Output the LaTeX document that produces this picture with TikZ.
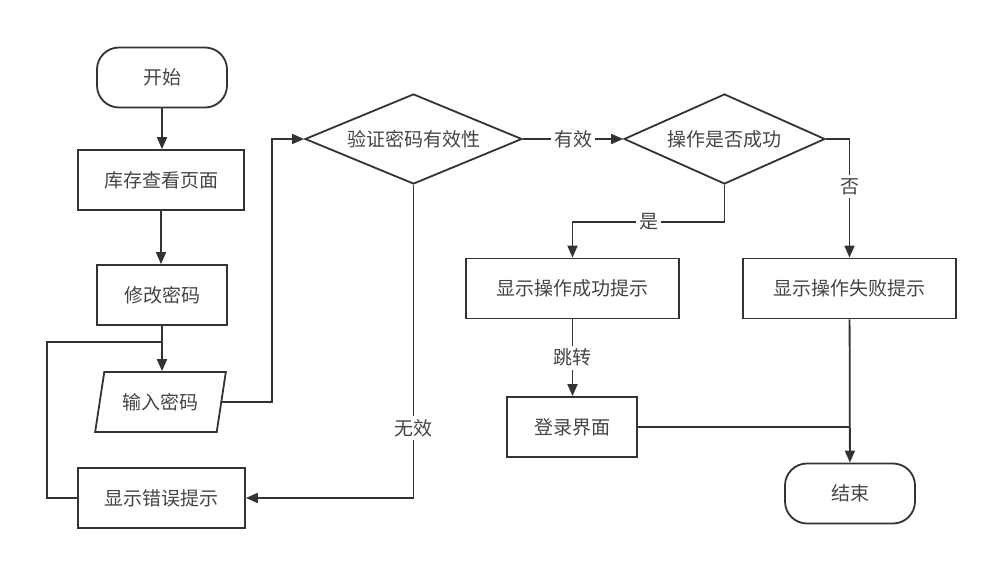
\documentclass[tikz,border=0pt]{standalone}
\usepackage{fontspec}
\setmainfont{Noto Sans CJK SC}
\usetikzlibrary{shapes.geometric,arrows.meta}
\begin{document}
\begin{tikzpicture}[x=1pt,y=-1pt,
  every node/.style={font=\fontsize{19}{22}\selectfont,text=txt},
  line/.style={draw=ln,line width=1.8pt},
  arr/.style={line,-{Triangle[length=12pt,width=10pt]}},
  box/.style={line,rectangle,minimum width=#1,minimum height=60pt,inner sep=0pt},
  terminal/.style={line,rectangle,rounded corners=22pt,minimum width=130pt,minimum height=60pt,inner sep=0pt},
  decision/.style={line,diamond,aspect=2.4,minimum width=#1,minimum height=90pt,inner sep=0pt},
  io/.style={line,trapezium,trapezium left angle=70.7,trapezium right angle=109.3,trapezium stretches=true,minimum width=131pt,minimum height=60pt,inner sep=0pt},
  lbl/.style={fill=white,inner sep=3pt}]
  \definecolor{ln}{HTML}{333333}
  \definecolor{txt}{HTML}{444444}
  \useasboundingbox (0,0) rectangle (988,561);
  \node [terminal] (start) at (162,77.5) {开始};
  \node [box=166] (stock) at (161,180) {库存查看页面};
  \node [box=130] (modify) at (162,295) {修改密码};
  \node [io] (input) at (160.5,402) {输入密码};
  \node [box=167] (errmsg) at (161.5,498) {显示错误提示};
  \node [decision=217] (check) at (413.5,139) {验证密码有效性};
  \node [decision=201] (result) at (724.5,139) {操作是否成功};
  \node [box=213] (okmsg) at (572.5,288.5) {显示操作成功提示};
  \node [box=130] (login) at (572,427) {登录界面};
  \node [box=213] (failmsg) at (849.5,288.5) {显示操作失败提示};
  \node [terminal] (end) at (850,493.5) {结束};
  \coordinate (back) at (162,342);
  \coordinate (upturn) at (272,402);
  \draw [arr] (start) -- (start |- stock.north);
  \draw [arr] (stock) -- (stock |- modify.north);
  \draw [arr] (modify.south) -- (modify.south |- input.north);
  \draw [line] (errmsg.west) -- ++(-30,0) |- (back);
  \draw [arr] (input.east) -- (upturn) |- (check.west);
  \draw [arr] (check.south) |- node [lbl,pos=0.388] {无效} (errmsg.east);
  \draw [arr] (check.east) -- node [lbl] {有效} (result.west);
  \draw [arr] (result.south) -- ++(0,37) -| node [lbl,pos=0.25] {是} (okmsg.north);
  \draw [arr] (result.east) -| node [lbl,pos=0.7] {否} (failmsg.north);
  \draw [arr] (okmsg) -- node [lbl] {跳转} (okmsg |- login.north);
  \draw [line] (login.east) -- (login.east -| end);
  \draw [arr] (failmsg) -- (end);
\end{tikzpicture}
\end{document}
